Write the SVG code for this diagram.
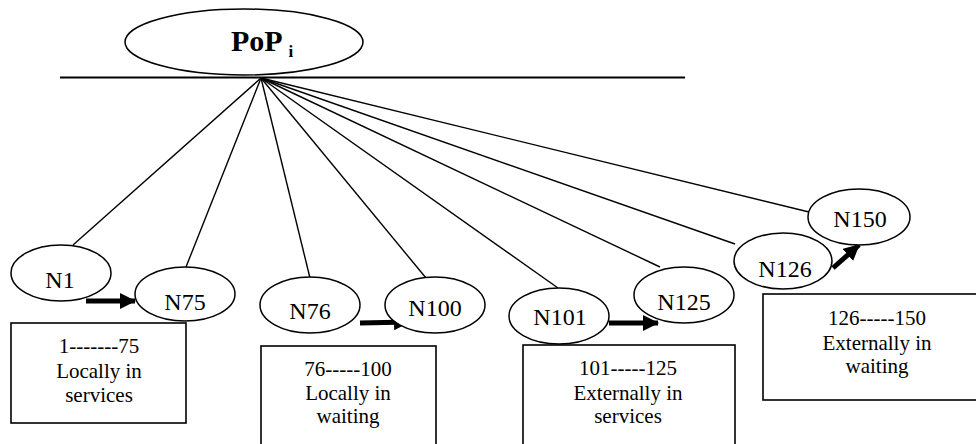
<svg xmlns="http://www.w3.org/2000/svg" width="976" height="444" viewBox="0 0 976 444">
<style>
.n{fill:#fff;stroke:#000;stroke-width:1.5}
.b{fill:#fff;stroke:#000;stroke-width:1.6}
.f{font-family:'Liberation Serif','DejaVu Serif',serif}
.t{font-size:24px;fill:#000;text-anchor:middle}
.bt{font-size:21px;fill:#000;text-anchor:middle}
.c{stroke:#000;stroke-width:1.4;fill:none}
.a{stroke:#000;stroke-width:5;fill:none;marker-end:url(#ah)}
</style>
<defs>
<marker id="ah" viewBox="0 0 16 16" markerWidth="16" markerHeight="16" refX="15" refY="8" orient="auto" markerUnits="userSpaceOnUse">
<path d="M0,0 L16,8 L0,16 z" fill="#000"/>
</marker>
</defs>
<rect width="976" height="444" fill="#fff"/>
<g id="pop">
<ellipse class="n" cx="244" cy="42" rx="119" ry="33"/>
<text class="f" x="231" y="51" font-size="30" font-weight="bold">PoP <tspan font-size="17" dy="6">i</tspan></text>
</g>
<g id="connectors">
<line x1="60" y1="77.5" x2="685" y2="77.5" stroke="#000" stroke-width="2"/>
<line class="c" x1="261" y1="78" x2="73" y2="245"/>
<line class="c" x1="261" y1="78" x2="186" y2="267"/>
<line class="c" x1="261" y1="78" x2="310" y2="278"/>
<line class="c" x1="261" y1="78" x2="426" y2="278"/>
<line class="c" x1="261" y1="78" x2="558" y2="288"/>
<line class="c" x1="261" y1="78" x2="660" y2="267"/>
<line class="c" x1="261" y1="78" x2="735" y2="244"/>
<line class="c" x1="261" y1="78" x2="809" y2="212"/>
<line class="a" x1="86" y1="301" x2="135" y2="301"/>
<line class="a" x1="360" y1="323" x2="409" y2="322"/>
<line class="a" x1="609" y1="323" x2="658" y2="323"/>
<line class="a" x1="833" y1="268" x2="859" y2="245"/>
</g>
<g id="n1"><ellipse class="n" cx="61" cy="273" rx="50" ry="28"/><text class="f t" x="60" y="288">N1</text></g>
<g id="n75"><ellipse class="n" cx="185" cy="294" rx="50" ry="27"/><text class="f t" x="185" y="310">N75</text></g>
<g id="n76"><ellipse class="n" cx="310" cy="305" rx="50" ry="28"/><text class="f t" x="310" y="319">N76</text></g>
<g id="n100"><ellipse class="n" cx="435" cy="305" rx="50" ry="28"/><text class="f t" x="435" y="316">N100</text></g>
<g id="n101"><ellipse class="n" cx="559" cy="316" rx="50" ry="28"/><text class="f t" x="560" y="325">N101</text></g>
<g id="n125"><ellipse class="n" cx="684" cy="295" rx="50" ry="28"/><text class="f t" x="684" y="310">N125</text></g>
<g id="n126"><ellipse class="n" cx="783" cy="261" rx="49" ry="28"/><text class="f t" x="785" y="277">N126</text></g>
<g id="n150"><ellipse class="n" cx="859" cy="217" rx="51" ry="28"/><text class="f t" x="860" y="227">N150</text></g>
<g id="box1"><rect class="b" x="11" y="323" width="175" height="100"/>
<text class="f bt" x="99" y="353">1-------75</text><text class="f bt" x="99" y="378">Locally in</text><text class="f bt" x="99" y="402">services</text></g>
<g id="box2"><rect class="b" x="261" y="346" width="175" height="110"/>
<text class="f bt" x="348" y="376">76-----100</text><text class="f bt" x="348" y="400">Locally in</text><text class="f bt" x="348" y="423">waiting</text></g>
<g id="box3"><rect class="b" x="523" y="345" width="212" height="110"/>
<text class="f bt" x="628" y="375">101-----125</text><text class="f bt" x="628" y="400">Externally in</text><text class="f bt" x="628" y="423">services</text></g>
<g id="box4"><rect class="b" x="763" y="294" width="230" height="106"/>
<text class="f bt" x="877" y="325">126-----150</text><text class="f bt" x="877" y="350">Externally in</text><text class="f bt" x="877" y="373">waiting</text></g>
</svg>
